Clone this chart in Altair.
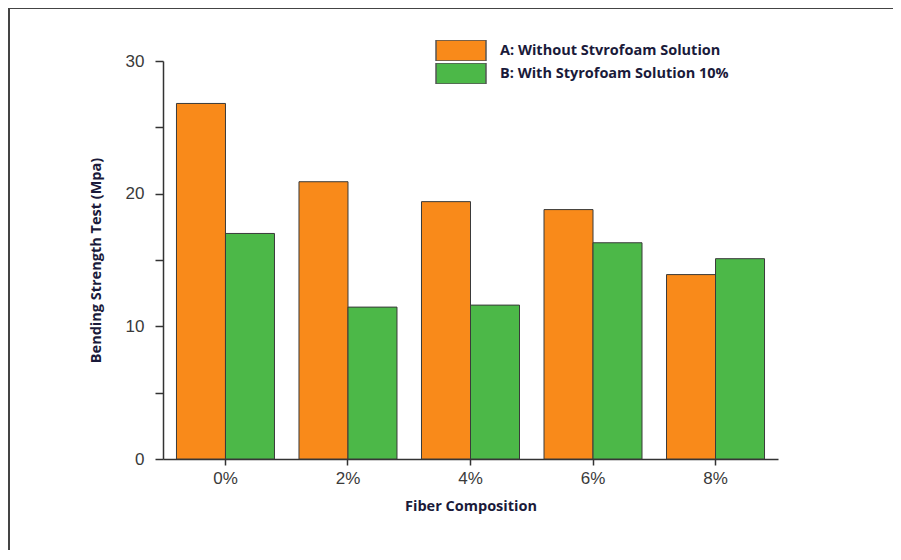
import altair as alt
import pandas as pd

categories = ["0%", "2%", "4%", "6%", "8%"]
series_names = ["A: Without Stvrofoam Solution", "B: With Styrofoam Solution 10%"]
values_a = [26.8, 20.9, 19.4, 18.8, 13.9]
values_b = [17.0, 11.45, 11.6, 16.3, 15.1]
colors = ["#F98A1A", "#4CB848"]
y_ticks = [0, 5, 10, 15, 20, 25, 30]

rows = []
for c, a, b in zip(categories, values_a, values_b):
    rows.append({"cat": c, "series": series_names[0], "value": a})
    rows.append({"cat": c, "series": series_names[1], "value": b})
df = pd.DataFrame(rows)

W, H = 615, 398

bars = alt.Chart(df).mark_bar(stroke="#3a3a3a", strokeWidth=1).encode(
    x=alt.X(
        "cat:N",
        sort=categories,
        scale=alt.Scale(paddingInner=0.2, paddingOuter=0.11),
        axis=alt.Axis(
            title="Fiber Composition",
            labelAngle=0,
            labelFont="Liberation Sans",
            labelFontSize=17,
            labelColor="#3a3a3a",
            labelPadding=5,
            tickSize=6,
            tickWidth=1.5,
            tickColor="#333333",
            domainColor="#333333",
            domainWidth=1.5,
            titleFont="Open Sans",
            titleFontSize=14.5,
            titleFontWeight="bold",
            titleColor="#1a1a3a",
            titlePadding=13,
        ),
    ),
    xOffset=alt.XOffset("series:N", sort=series_names),
    y=alt.Y(
        "value:Q",
        scale=alt.Scale(domain=[0, 30], nice=False),
        axis=alt.Axis(
            title="Bending Strength Test (Mpa)",
            values=y_ticks,
            labelExpr="datum.value % 10 == 0 ? datum.label : ''",
            tickSize=8,
            tickWidth=1.5,
            grid=False,
            labelFont="Liberation Sans",
            labelFontSize=17,
            labelColor="#3a3a3a",
            labelPadding=11,
            tickColor="#333333",
            domainColor="#333333",
            domainWidth=1.5,
            titleFont="Open Sans",
            titleFontSize=14.5,
            titleFontWeight="bold",
            titleColor="#1a1a3a",
            titlePadding=22,
        ),
    ),
    color=alt.Color(
        "series:N",
        scale=alt.Scale(domain=series_names, range=colors),
        legend=alt.Legend(
            title=None,
            orient="none",
            legendX=272,
            legendY=-21,
            symbolType="M-1,-0.42H1V0.42H-1Z",
            symbolSize=2500,
            clipHeight=21,
            rowPadding=2,
            symbolStrokeColor="#555555",
            symbolStrokeWidth=1.5,
            symbolOpacity=1,
            labelFont="Open Sans",
            labelFontSize=14.5,
            labelFontWeight="bold",
            labelColor="#1a1a3a",
            labelOffset=13,
            labelLimit=400,
            labelExpr="indexof(datum.label, 'A:') == 0 ? '\u00a0\u00a0\u00a0' + datum.label : datum.label",
        ),
    ),
)

frame = pd.DataFrame({"k": [0]})
top_rule = alt.Chart(frame).mark_rule(color="#444444", strokeWidth=2).encode(
    x=alt.value(-154), x2=alt.value(W + 130), y=alt.value(-53)
)
left_rule = alt.Chart(frame).mark_rule(color="#444444", strokeWidth=2).encode(
    x=alt.value(-154), y=alt.value(-53), y2=alt.value(H + 110)
)

chart = alt.layer(bars, top_rule, left_rule).properties(
    width=W,
    height=H,
    autosize=alt.AutoSizeParams(type="none"),
    padding={"left": 155, "top": 53, "right": 115, "bottom": 91},
).configure_view(stroke=None)

chart.save("out.html", embed_options={"renderer": "svg", "actions": False})
